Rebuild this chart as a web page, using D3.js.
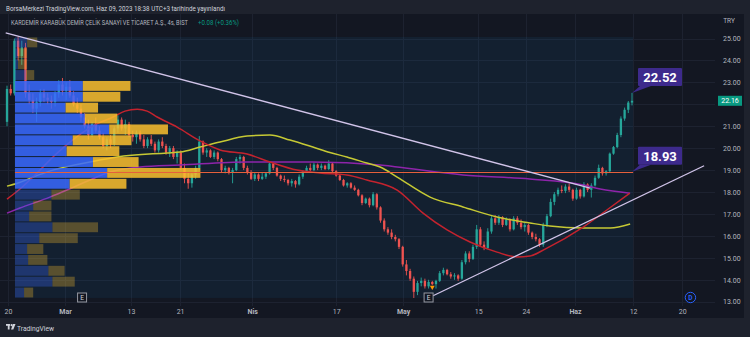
<!DOCTYPE html>
<html>
<head>
<meta charset="utf-8">
<script src="https://cdn.jsdelivr.net/npm/d3@7"></script>
<style>
  html, body { margin: 0; padding: 0; background: #1e222d; }
  svg { display: block; }
</style>
</head>
<body>
<svg id="chart" width="750" height="337"></svg>
<script>
// ---- KRDMD 4h candles: [open, high, low, close] ----
const candles = [
  [21.2,22.85,21.0,22.7],[22.7,22.9,22.4,22.5],[22.5,25.0,22.4,24.9],[24.9,25.07,24.0,24.2],
  [24.2,24.9,23.8,24.6],[24.6,24.8,22.3,22.5],[22.5,22.9,22.0,22.2],[22.2,22.5,21.6,21.8],
  [21.8,22.3,21.2,22.1],[22.1,22.7,21.9,22.5],[22.5,22.7,22.1,22.3],[22.3,22.5,22.0,22.2],
  [22.2,22.4,21.8,22.1],[22.1,22.6,21.9,22.5],[22.5,23.1,22.3,22.9],[22.9,23.2,22.4,22.6],
  [22.6,23.0,22.2,22.8],[22.8,23.1,22.3,22.4],[22.4,22.6,21.9,22.0],[22.0,22.3,21.6,21.8],
  [21.8,22.0,21.2,21.4],[21.4,21.6,20.9,21.0],[21.0,21.3,20.4,20.6],[20.6,21.2,20.5,21.1],
  [21.1,21.4,20.7,20.8],[20.8,21.0,20.4,20.5],[20.5,20.7,20.0,20.1],[20.1,20.5,19.9,20.4],
  [20.4,20.6,20.0,20.2],[20.2,21.0,20.1,20.9],[20.9,21.5,20.7,21.3],[21.3,21.4,20.8,20.9],
  [20.9,21.3,20.6,21.1],[21.1,21.2,20.5,20.6],[20.6,20.8,20.3,20.5],[20.5,20.8,20.2,20.7],
  [20.7,20.8,20.3,20.4],[20.4,20.6,20.0,20.1],[20.1,20.5,20.0,20.4],[20.4,20.6,20.1,20.2],
  [20.2,20.3,19.8,19.9],[19.9,20.4,19.8,20.3],[20.3,20.5,20.0,20.1],[20.1,20.2,19.7,19.8],
  [19.8,20.1,19.6,20.0],[20.0,20.1,19.5,19.6],[19.6,19.9,19.3,19.8],[19.8,19.9,19.0,19.1],
  [19.1,19.3,18.4,18.6],[18.6,18.9,18.15,18.4],[18.4,18.9,18.2,18.8],[18.8,19.2,18.6,19.1],
  [19.1,20.55,19.0,20.3],[20.3,20.35,19.7,19.8],[19.8,20.0,19.6,19.9],[19.9,19.95,19.55,19.6],
  [19.6,19.9,19.5,19.8],[19.8,19.85,19.4,19.5],[19.5,19.55,18.9,19.0],[19.0,19.2,18.85,19.1],
  [19.1,19.15,18.8,18.9],[18.9,19.1,18.4,19.0],[19.0,19.6,18.95,19.5],[19.5,19.7,19.3,19.6],
  [19.6,19.65,19.0,19.1],[19.1,19.2,18.8,18.9],[18.9,19.0,18.55,18.6],[18.6,18.9,18.5,18.8],
  [18.8,18.85,18.5,18.6],[18.6,18.9,18.55,18.7],[18.7,18.9,18.6,18.85],[18.85,19.4,18.8,19.3],
  [19.3,19.35,19.0,19.1],[19.1,19.15,18.7,18.75],[18.75,18.8,18.5,18.6],[18.6,18.75,18.45,18.55],
  [18.55,18.6,18.3,18.4],[18.4,18.6,18.25,18.5],[18.5,18.55,18.2,18.35],[18.35,18.8,18.3,18.7],
  [18.7,19.0,18.6,18.95],[18.95,19.2,18.9,19.1],[19.1,19.3,18.95,19.0],[19.0,19.35,18.95,19.25],
  [19.25,19.3,19.0,19.1],[19.1,19.3,19.0,19.2],[19.2,19.25,19.0,19.05],[19.05,19.45,19.0,19.3],
  [19.3,19.35,18.9,18.95],[18.95,19.0,18.7,18.75],[18.75,18.8,18.5,18.55],[18.55,18.6,18.25,18.3],
  [18.3,18.45,18.2,18.4],[18.4,18.45,18.15,18.2],[18.2,18.3,18.05,18.1],[18.1,18.15,17.8,17.85],
  [17.85,17.9,17.4,17.5],[17.5,17.75,17.45,17.7],[17.7,17.75,17.3,17.4],[17.4,18.0,17.35,17.9],
  [17.9,17.95,17.2,17.3],[17.3,17.35,16.6,16.7],[16.7,16.8,16.2,16.3],[16.3,16.4,16.05,16.15],
  [16.15,16.3,15.85,15.95],[15.95,16.05,15.75,15.85],[15.85,15.9,15.4,15.5],[15.5,15.55,14.6,14.7],
  [14.7,14.9,14.2,14.4],[14.4,14.5,13.95,14.05],[14.05,14.15,13.17,13.45],[13.45,13.95,13.3,13.85],
  [13.85,14.1,13.7,13.95],[13.95,14.05,13.6,13.7],[13.7,14.0,13.6,13.9],[13.9,13.95,13.75,13.8],
  [13.8,14.0,13.6,13.95],[13.95,14.4,13.9,14.3],[14.3,14.55,14.2,14.45],[14.45,14.5,14.2,14.25],
  [14.25,14.35,14.05,14.15],[14.15,14.3,14.0,14.2],[14.2,14.25,13.95,14.05],[14.05,14.9,14.0,14.8],
  [14.8,15.3,14.7,15.2],[15.2,15.3,14.8,14.95],[14.95,15.6,14.9,15.5],[15.5,16.5,15.4,16.3],
  [16.3,16.4,15.5,15.6],[15.6,15.75,15.35,15.45],[15.45,16.35,15.4,16.2],[16.2,16.9,16.1,16.8],
  [16.8,16.95,16.5,16.6],[16.6,16.95,16.5,16.85],[16.85,16.9,16.4,16.5],[16.5,16.85,16.45,16.75],
  [16.75,16.8,16.2,16.3],[16.3,16.9,16.25,16.8],[16.8,16.9,16.5,16.6],[16.6,16.75,16.3,16.4],
  [16.4,16.6,16.2,16.5],[16.5,16.55,16.05,16.15],[16.15,16.2,15.85,15.95],[15.95,16.1,15.75,15.85],
  [15.85,15.9,15.5,15.6],[15.6,16.6,15.5,16.5],[16.5,17.0,16.4,16.9],[16.9,17.7,16.85,17.55],
  [17.55,18.0,17.4,17.9],[17.9,18.2,17.8,18.1],[18.1,18.3,17.95,18.05],[18.05,18.35,17.95,18.25],
  [18.25,18.4,18.0,18.1],[18.1,18.15,17.6,17.7],[17.7,18.2,17.65,18.1],[18.1,18.15,17.7,17.8],
  [17.8,18.45,17.75,18.35],[18.35,18.4,18.0,18.1],[18.1,18.4,17.75,18.3],[18.3,18.75,18.25,18.65],
  [18.65,19.25,18.6,19.1],[19.1,19.15,18.75,18.85],[18.85,19.0,18.75,18.95],[18.95,19.8,18.9,19.75],
  [19.75,20.1,19.7,20.05],[20.05,20.7,20.0,20.6],[20.6,21.45,20.5,21.35],[21.35,21.85,21.25,21.75],
  [21.75,22.15,21.6,22.08],[22.08,22.52,21.95,22.16]
];

// ---- moving averages, sampled as [bar index, price] ----
const maRed = [
  [0,17.68],[3.5,18.14],[7.6,18.78],[13,19.69],[18.4,20.46],[23.8,21.06],[28.7,21.42],
  [31.9,21.69],[35.2,21.78],[37.9,21.69],[40.6,21.42],[46,20.96],[52.2,20.33],[57.6,19.92],
  [64.9,19.73],[71.1,19.37],[78.4,19.0],[84.6,18.87],[91.9,18.78],[97.3,18.55],[105.5,18.09],
  [112.5,17.04],[119,16.27],[125.2,15.72],[132.5,15.26],[137.9,15.04],[141.4,15.08],
  [145.5,15.4],[155.8,16.4],[162.2,17.18],[168.4,17.95]
];
const maYellow = [
  [0,18.27],[3,18.41],[7,18.68],[12.4,19.0],[22.4,19.37],[29.7,19.6],[43.3,19.78],
  [46.8,19.82],[52.2,20.05],[57.6,20.28],[64.9,20.55],[71.1,20.6],[76.5,20.37],[82.7,20.05],
  [87.3,19.8],[91.9,19.6],[97.3,19.32],[100.9,19.14],[105.5,18.68],[114.4,17.77],[123.3,17.32],
  [132.5,16.86],[141.4,16.59],[146.8,16.45],[155.8,16.36],[163.1,16.36],[168.5,16.54]
];
const maPurple = [
  [0,17.04],[3.5,17.27],[11.6,17.77],[16.2,18.09],[22.4,18.55],[27.9,18.91],[36,19.14],
  [46.8,19.23],[64.9,19.37],[82.7,19.37],[100.9,19.23],[105.5,19.14],[123.3,18.78],
  [141.4,18.59],[155.8,18.32],[160.4,18.14],[168.5,17.95]
];

// ---- fixed range volume profile (rows listed from the top of the range) ----
const vpHigh = 25.07, vpLow = 13.17;
const vpRangeStart = 2.15, vpRangeEnd = 169.3;
const vpUp   = [12,3,3,11,67,67,50,69,93,57,51,77,91,54,36,18,14,37,24,12,13,33,37,9];
const vpDown = [10,9,9,8,47,37,32,32,58,58,52,45,92,56,28,18,22,45,38,16,19,16,22,9];
const vpValueArea = [4, 13];

// ---- drawings ----
const trendDown = [[-0.35,25.26],[157.7,18.18]];
const trendUp   = [[115.2,13.27],[188.5,19.2]];
const levelPrice = 18.93;
const calloutPrices = [22.52, 18.93];
const lastPrice = 22.16;
const eventBars = [20.3, 114.0];
const dividendBar = 184.8;
const markerBar = 115, markerPrice = 13.66;

// ---- axes ----
const priceTicks = [13,14,15,16,17,18,19,20,21,22,23,24,25];
const timeTicks  = [0.27,15.7,33.5,46.8,66.3,89.0,107.1,127.4,140.3,153.6,169.3,182.6];
const timeLabels = ['20','Mar','13','21','Nis','17','May','15','24','Haz','12','20'];
const monthLabels = ['Mar','Nis','May','Haz'];

// ================== drawing ==================
const svg = d3.select('#chart');
const FONT = 'Roboto, "Liberation Sans", sans-serif';
const UP = '#26a69a', DOWN = '#ef5350';

const x = d3.scaleLinear().domain([0, 169]).range([7, 632]);
const y = d3.scaleLinear().domain([13, 25]).range([301.7, 38.5]);
const snap = v => Math.round(v) + 0.5;

const plot = { left: 0, right: 715, top: 14, bottom: 306 };

// background panes
svg.append('rect').attr('width', 750).attr('height', 337).attr('fill', '#1e222d');
svg.append('rect').attr('x', 0).attr('y', 14).attr('width', 744).attr('height', 304).attr('fill', '#131722');

// grid
const grid = svg.append('g').attr('stroke', '#1d2230').attr('stroke-width', 1);
grid.selectAll('line.h').data(priceTicks).join('line')
  .attr('x1', plot.left).attr('x2', plot.right)
  .attr('y1', d => snap(y(d))).attr('y2', d => snap(y(d)));
grid.selectAll('line.v').data(timeTicks).join('line')
  .attr('y1', plot.top).attr('y2', plot.bottom)
  .attr('x1', d => snap(x(d))).attr('x2', d => snap(x(d)));

// range background
svg.append('rect')
  .attr('x', x(vpRangeStart)).attr('y', y(vpHigh))
  .attr('width', x(vpRangeEnd) - x(vpRangeStart)).attr('height', y(vpLow) - y(vpHigh))
  .attr('fill', 'rgba(33,150,243,0.07)');

// candles
const cg = svg.append('g');
const bw = 2.3;
cg.selectAll('line').data(candles).join('line')
  .attr('x1', (d, i) => x(i)).attr('x2', (d, i) => x(i))
  .attr('y1', d => y(d[1])).attr('y2', d => y(d[2]))
  .attr('stroke', d => d[3] >= d[0] ? UP : DOWN).attr('stroke-width', 0.9);
cg.selectAll('rect').data(candles).join('rect')
  .attr('x', (d, i) => x(i) - bw / 2).attr('width', bw)
  .attr('y', d => y(Math.max(d[0], d[3])))
  .attr('height', d => Math.max(1, Math.abs(y(d[0]) - y(d[3]))))
  .attr('fill', d => d[3] >= d[0] ? UP : DOWN);

// moving averages
const maLine = d3.line().x(d => x(d[0])).y(d => y(d[1])).curve(d3.curveMonotoneX);
[[maPurple, '#8e24aa'], [maYellow, '#c6c934'], [maRed, '#c4232e']].forEach(([data, col]) => {
  svg.append('path').attr('d', maLine(data)).attr('fill', 'none')
    .attr('stroke', col).attr('stroke-width', 1.5);
});

// volume profile
const rowH = (vpHigh - vpLow) / vpUp.length;
const vpX0 = x(vpRangeStart);
const maxTotal = d3.max(vpUp, (u, i) => u + vpDown[i]);
const vw = d3.scaleLinear().domain([0, maxTotal]).range([0, 0.3 * (x(vpRangeEnd) - vpX0)]);
const rows = vpUp.map((u, i) => ({
  i, up: u, down: vpDown[i],
  top: vpHigh - i * rowH, bottom: vpHigh - (i + 1) * rowH,
  va: i >= vpValueArea[0] && i <= vpValueArea[1]
}));
const vg = svg.append('g');
vg.selectAll('rect.up').data(rows).join('rect')
  .attr('x', vpX0).attr('width', d => vw(d.up))
  .attr('y', d => y(d.top) + 0.5).attr('height', d => y(d.bottom) - y(d.top) - 1)
  .attr('fill', '#3a6aff').attr('opacity', d => d.va ? 0.85 : 0.3);
vg.selectAll('rect.down').data(rows).join('rect')
  .attr('x', d => vpX0 + vw(d.up)).attr('width', d => vw(d.down))
  .attr('y', d => y(d.top) + 0.5).attr('height', d => y(d.bottom) - y(d.top) - 1)
  .attr('fill', '#fbc02d').attr('opacity', d => d.va ? 0.85 : 0.3);

// horizontal level
svg.append('line')
  .attr('x1', vpX0).attr('x2', x(vpRangeEnd))
  .attr('y1', snap(y(levelPrice))).attr('y2', snap(y(levelPrice)))
  .attr('stroke', '#e5603c').attr('stroke-width', 1);

// trend lines
[trendDown, trendUp].forEach(t => {
  svg.append('line')
    .attr('x1', x(t[0][0])).attr('y1', y(t[0][1]))
    .attr('x2', x(t[1][0])).attr('y2', y(t[1][1]))
    .attr('stroke', '#d1c4e9').attr('stroke-width', 1.3);
});

// dividend-style marker
svg.append('path')
  .attr('d', d3.symbol(d3.symbolTriangle, 10)())
  .attr('transform', `translate(${x(markerBar)},${y(markerPrice)}) rotate(180)`)
  .attr('fill', '#ff9800');

// callouts
const lastIdx = candles.length - 1;
calloutPrices.forEach(p => {
  const px = x(lastIdx), py = y(p);
  const bx = px + 6, by = py - 25, bwid = 44, bh = 18;
  const g = svg.append('g');
  g.append('path')
    .attr('d', `M${px},${py} L${bx + 2},${by + bh} L${bx + 13},${by + bh} Z`)
    .attr('fill', '#3d2a8c');
  g.append('rect').attr('x', bx).attr('y', by).attr('width', bwid).attr('height', bh)
    .attr('rx', 1).attr('fill', '#3d2a8c');
  g.append('text').attr('x', bx + bwid / 2).attr('y', by + bh / 2 + 0.5)
    .attr('text-anchor', 'middle').attr('dominant-baseline', 'central')
    .attr('font-family', FONT).attr('font-size', 13).attr('font-weight', 'bold')
    .attr('fill', '#ffffff').text(p.toFixed(2));
});

// event markers
eventBars.forEach(b => {
  const cx = x(b);
  svg.append('rect').attr('x', cx - 4.5).attr('y', 293).attr('width', 9).attr('height', 9)
    .attr('fill', '#131722').attr('stroke', '#9598a1').attr('stroke-width', 1);
  svg.append('text').attr('x', cx).attr('y', 297.8).attr('text-anchor', 'middle')
    .attr('dominant-baseline', 'central').attr('font-family', FONT).attr('font-size', 6.5)
    .attr('fill', '#d1d4dc').text('E');
});
svg.append('circle').attr('cx', x(dividendBar)).attr('cy', 297.5).attr('r', 5.2)
  .attr('fill', '#131722').attr('stroke', '#2962ff').attr('stroke-width', 1);
svg.append('text').attr('x', x(dividendBar)).attr('y', 297.8).attr('text-anchor', 'middle')
  .attr('dominant-baseline', 'central').attr('font-family', FONT).attr('font-size', 6.5)
  .attr('font-weight', 'bold').attr('fill', '#2962ff').text('D');

// price axis (labels hidden under the last-price tag are skipped)
const yAxis = svg.append('g').attr('transform', 'translate(718,0)')
  .call(d3.axisRight(y).tickValues(priceTicks.filter(p => Math.abs(y(p) - y(lastPrice)) > 7))
    .tickFormat(d3.format('.2f')).tickSize(0).tickPadding(5));
yAxis.select('.domain').remove();
yAxis.selectAll('text').attr('font-family', FONT).attr('font-size', 7).attr('fill', '#b2b5be');
svg.append('text').attr('x', 729).attr('y', 23).attr('text-anchor', 'middle')
  .attr('font-family', FONT).attr('font-size', 6.5).attr('fill', '#b2b5be').text('TRY');

// last price tag
svg.append('rect').attr('x', 718).attr('y', y(lastPrice) - 5).attr('width', 24).attr('height', 10)
  .attr('fill', '#089981');
svg.append('text').attr('x', 730).attr('y', y(lastPrice) + 0.3).attr('text-anchor', 'middle')
  .attr('dominant-baseline', 'central').attr('font-family', FONT).attr('font-size', 7)
  .attr('fill', '#ffffff').text(lastPrice.toFixed(2));

// time axis
const xAxis = svg.append('g').attr('transform', 'translate(0,306)')
  .call(d3.axisBottom(x).tickValues(timeTicks).tickFormat((d, i) => timeLabels[i]).tickSize(0).tickPadding(3));
xAxis.select('.domain').remove();
xAxis.selectAll('text').attr('font-family', FONT).attr('font-size', 7).attr('fill', '#b2b5be')
  .attr('font-weight', d => monthLabels.includes(timeLabels[timeTicks.indexOf(d)]) ? 'bold' : 'normal');

// header texts (narrow glyphs, stretched vertically)
function headerText(tx, ty, size, len, col, str) {
  svg.append('text').attr('transform', `translate(${tx},${ty}) scale(1,1.25)`)
    .attr('font-family', FONT).attr('font-size', size).attr('fill', col)
    .attr('textLength', len).attr('lengthAdjust', 'spacingAndGlyphs').text(str);
}
headerText(6, 11, 6, 219, '#d1d4dc', 'BorsaMerkezi TradingView.com, Haz 09, 2023 18:38 UTC+3 tarihinde yayınlandı');
headerText(11, 25.3, 5.6, 177, '#b2b5be', 'KARDEMİR KARABÜK DEMİR ÇELİK SANAYİ VE TİCARET A.Ş., 4s, BIST');
headerText(198, 25.3, 5.6, 41, '#089981', '+0.08 (+0.36%)');

// footer brand
const logo = svg.append('g').attr('transform', 'translate(6,324)').attr('fill', '#d1d4dc');
logo.append('rect').attr('x', 0).attr('y', 0).attr('width', 4).attr('height', 1.8);
logo.append('rect').attr('x', 1.8).attr('y', 0).attr('width', 1.8).attr('height', 5.5);
logo.append('circle').attr('cx', 5.6).attr('cy', 1.2).attr('r', 1.1);
logo.append('path').attr('d', 'M7,0 L9.5,0 L7.3,5.5 L5,5.5 Z');
svg.append('text').attr('x', 17).attr('y', 330.5).attr('font-family', FONT).attr('font-size', 8)
  .attr('fill', '#d1d4dc').attr('textLength', 37).attr('lengthAdjust', 'spacingAndGlyphs')
  .text('TradingView');
</script>
</body>
</html>
